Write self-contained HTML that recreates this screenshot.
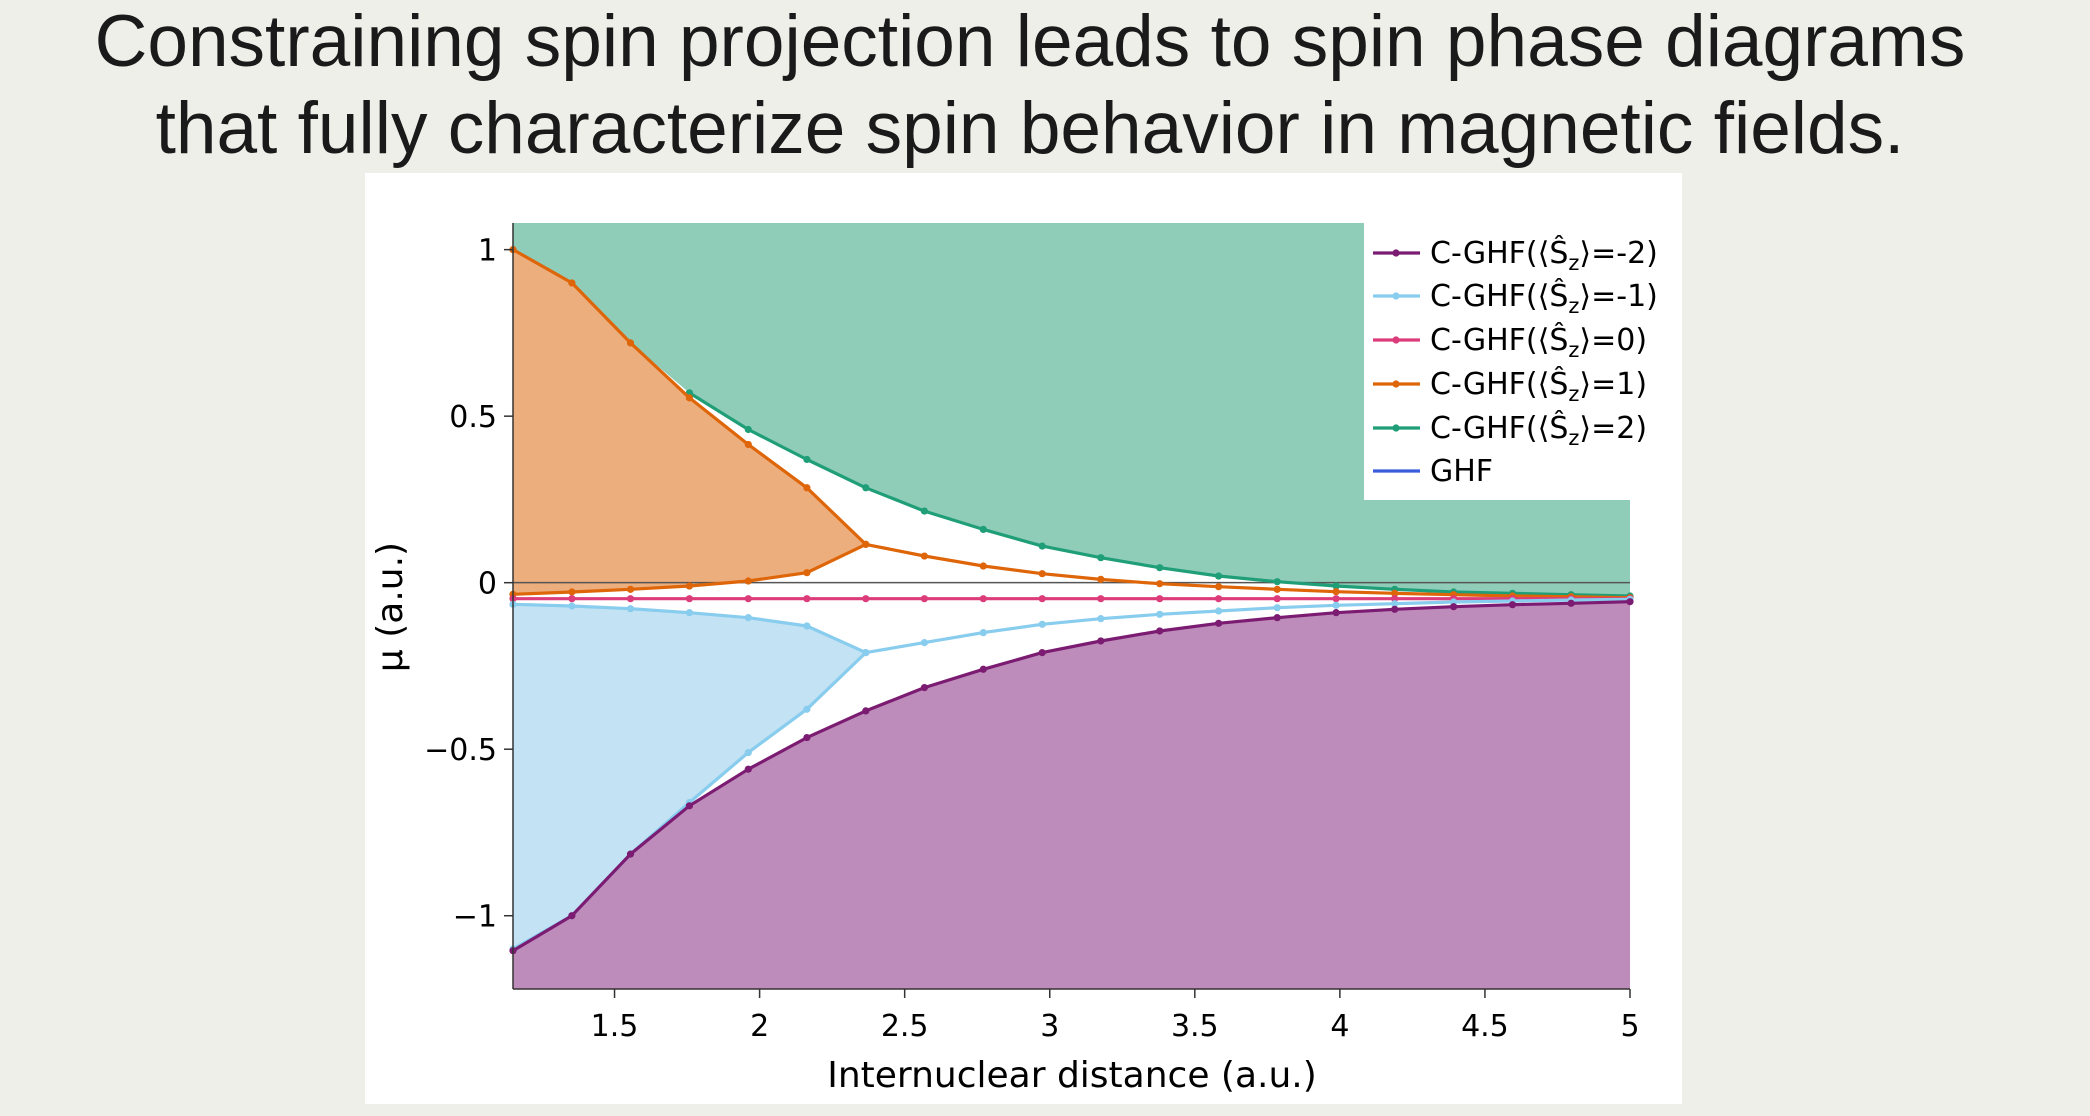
<!DOCTYPE html>
<html><head><meta charset="utf-8"><style>
html,body{margin:0;padding:0;background:#efefea;}
svg{display:block;}
</style></head><body>
<svg id="root" width="2090" height="1116" viewBox="0 0 2090 1116" xmlns="http://www.w3.org/2000/svg">
<rect x="0" y="0" width="2090" height="1116" fill="#efefea"/>
<text x="1030" y="66" text-anchor="middle" font-family="Liberation Sans, sans-serif" font-size="73" fill="#1a1a1a">Constraining spin projection leads to spin phase diagrams</text>
<text x="1030" y="153" text-anchor="middle" font-family="Liberation Sans, sans-serif" font-size="73" fill="#1a1a1a">that fully characterize spin behavior in magnetic fields.</text>
<rect x="365" y="173" width="1317" height="931" fill="#ffffff"/>
<g id="chart"></g>
</svg>
<script>
const xs = [1.15,1.353,1.555,1.758,1.961,2.163,2.366,2.568,2.771,2.974,3.176,3.379,3.582,3.784,3.987,4.189,4.392,4.595,4.797,5.0];
const greenVals = [1.0,0.9,0.72,0.57,0.46,0.37,0.285,0.215,0.16,0.11,0.075,0.045,0.02,0.003,-0.01,-0.02,-0.028,-0.032,-0.036,-0.04];
const orangeVals = [1.0,0.9,0.72,0.555,0.415,0.285,0.115,0.08,0.05,0.027,0.01,-0.003,-0.012,-0.02,-0.027,-0.032,-0.036,-0.04,-0.042,-0.045];
const orangeLowX = [1.15,1.353,1.555,1.758,1.961,2.163,2.366];
const orangeLowVals = [-0.035,-0.028,-0.02,-0.01,0.005,0.03,0.115];
const pinkVals = [-0.048,-0.048,-0.048,-0.048,-0.048,-0.048,-0.048,-0.048,-0.048,-0.048,-0.048,-0.048,-0.048,-0.048,-0.048,-0.048,-0.048,-0.048,-0.048,-0.048];
const blueVals = [-0.065,-0.07,-0.078,-0.09,-0.105,-0.13,-0.21,-0.18,-0.15,-0.125,-0.108,-0.095,-0.085,-0.075,-0.068,-0.063,-0.058,-0.055,-0.052,-0.05];
const blueLowX = [1.15,1.353,1.555,1.758,1.961,2.163,2.366];
const blueLowVals = [-1.1,-1.0,-0.815,-0.66,-0.51,-0.38,-0.21];
const purpleVals = [-1.105,-1.0,-0.815,-0.67,-0.56,-0.465,-0.385,-0.315,-0.26,-0.21,-0.175,-0.145,-0.122,-0.105,-0.09,-0.08,-0.072,-0.066,-0.062,-0.057];
const xTicks = [1.5,2,2.5,3,3.5,4,4.5,5];
const xTickLabels = ["1.5","2","2.5","3","3.5","4","4.5","5"];
const yTicks = [1,0.5,0,-0.5,-1];
const yTickLabels = ["1","0.5","0","\u22120.5","\u22121"];

const X0=513,X1=1630,Y0=223,Y1=989;
const xMin=1.15,xMax=5.0,yMax=1.08,yMin=-1.22;
function sx(v){return X0+(v-xMin)/(xMax-xMin)*(X1-X0);}
function sy(v){return Y0+(yMax-v)/(yMax-yMin)*(Y1-Y0);}
const NS="http://www.w3.org/2000/svg";
const g=document.getElementById('chart');
function mk(tag,attrs,parent){const e=document.createElementNS(NS,tag);for(const k in attrs)e.setAttribute(k,attrs[k]);(parent||g).appendChild(e);return e;}
function pts(xa,ya){return xa.map((x,i)=>sx(x).toFixed(1)+','+sy(ya[i]).toFixed(1));}

let e;
e=mk('polygon',{points:[sx(xMin)+','+Y0].concat(pts(xs,greenVals)).concat([sx(xMax)+','+Y0]).join(' '),fill:'#8fcdb9'});


e=mk('polygon',{points:pts(orangeLowX,orangeVals.slice(0,orangeLowX.length)).concat(pts(orangeLowX,orangeLowVals).reverse()).join(' '),fill:'#ecae7d'});


e=mk('polygon',{points:pts(blueLowX,blueVals.slice(0,blueLowX.length)).concat(pts(blueLowX,blueLowVals).reverse()).join(' '),fill:'#c3e3f4'});


e=mk('polygon',{points:[sx(xMin)+','+Y1].concat(pts(xs,purpleVals)).concat([sx(xMax)+','+Y1]).join(' '),fill:'#be8cba'});



e=mk('rect',{x:1364,y:223,width:318,height:277,fill:'#ffffff'});



e=mk('line',{x1:X0,x2:X1,y1:sy(0),y2:sy(0),stroke:'#555',"stroke-width":1.5});



function series(name,xa,ya,color){
  const p=mk('polyline',{points:pts(xa,ya).join(' '),fill:'none',stroke:color,"stroke-width":3.2,"stroke-linejoin":"round"});
  
  
  xa.forEach((x,i)=>{const c=mk('circle',{cx:sx(x),cy:sy(ya[i]),r:3.6,fill:color});
    
    });
}
series('sz-plus-2',xs.slice(3),greenVals.slice(3),'#1f9e78');
series('sz-plus-1',xs,orangeVals,'#de6508');
series('sz-plus-1-lower',orangeLowX,orangeLowVals,'#de6508');
series('sz-0',xs,pinkVals,'#dd3c7a');
series('sz-minus-1',xs,blueVals,'#88ccee');
series('sz-minus-1-lower',blueLowX,blueLowVals,'#88ccee');
series('sz-minus-2',xs,purpleVals,'#7b1c72');

e=mk('line',{x1:X0,x2:X0,y1:Y0,y2:Y1,stroke:'#333',"stroke-width":1.5});


e=mk('line',{x1:X0,x2:X1,y1:Y1,y2:Y1,stroke:'#333',"stroke-width":1.5});


const F='DejaVu Sans, Liberation Sans, sans-serif';
xTicks.forEach((v,i)=>{
  const t=mk('line',{x1:sx(v),x2:sx(v),y1:Y1,y2:Y1+9,stroke:'#333',"stroke-width":1.5});
  
  
  const l=mk('text',{x:sx(v),y:Y1+47,"text-anchor":"middle","font-family":F,"font-size":30,fill:'#000'});
  l.textContent=xTickLabels[i];
  
  
});
yTicks.forEach((v,i)=>{
  const t=mk('line',{x1:X0-9,x2:X0,y1:sy(v),y2:sy(v),stroke:'#333',"stroke-width":1.5});
  
  
  const l=mk('text',{x:X0-16,y:sy(v)+11,"text-anchor":"end","font-family":F,"font-size":30,fill:'#000'});
  l.textContent=yTickLabels[i];
  
  
});
e=mk('text',{x:1072,y:1087,"text-anchor":"middle","font-family":F,"font-size":36,fill:'#000'});
e.textContent='Internuclear distance (a.u.)';


e=mk('text',{x:0,y:0,"text-anchor":"middle","font-family":F,"font-size":36,fill:'#000',transform:'translate(402,607) rotate(-90)'});
e.textContent='\u03bc (a.u.)';



const legLabels=['=-2)','=-1)','=0)','=1)','=2)'];
const legColors=['#7b1c72','#88ccee','#dd3c7a','#de6508','#1f9e78'];
const legY=[253,296,340,384,428,471];
legLabels.forEach((lab,i)=>{
  const y=legY[i];
  const ln=mk('line',{x1:1373,x2:1420,y1:y,y2:y,stroke:legColors[i],"stroke-width":3.2});
  
  
  const c=mk('circle',{cx:1396,cy:y,r:3.6,fill:legColors[i]});
  
  
  const t=mk('text',{x:1430,y:y+10,"font-family":F,"font-size":30,fill:'#000'});
  t.innerHTML='C-GHF(\u27e8\u015c<tspan font-size="21" dy="7">z</tspan><tspan dy="-7">\u27e9'+lab+'</tspan>';
  
  
});
e=mk('line',{x1:1373,x2:1420,y1:471,y2:471,stroke:'#3a5ddb',"stroke-width":3.2});


e=mk('text',{x:1430,y:481,"font-family":F,"font-size":30,fill:'#000'});
e.textContent='GHF';


</script>
</body></html>
